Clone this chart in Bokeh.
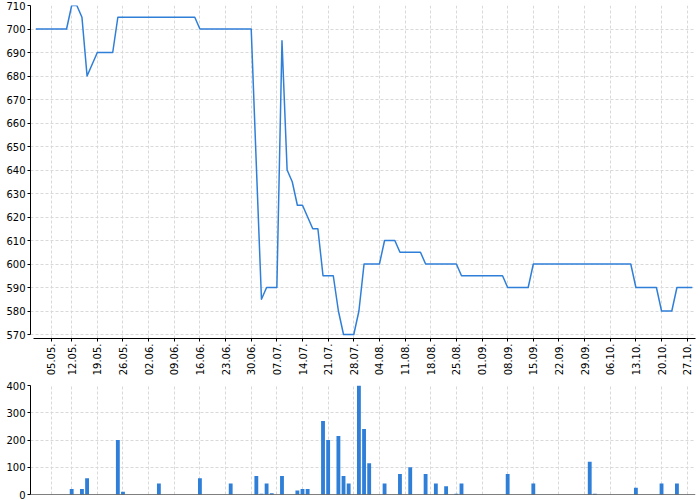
import math
import pandas as pd
from bokeh.plotting import figure
from bokeh.layouts import column
from bokeh.models import FixedTicker, Range1d, ColumnDataSource, Span
from bokeh.embed import file_html
from bokeh.resources import INLINE

# trading calendar (weekends and Czech holidays skipped)
trading_days = pd.bdate_range("2014-04-29", "2014-10-29", freq="C",
                              holidays=["2014-05-01", "2014-05-08", "2014-10-28"])
day_labels = [d.strftime("%d.%m.") for d in trading_days]

tick_labels = ["05.05.", "12.05.", "19.05.", "26.05.", "02.06.", "09.06.", "16.06.",
               "23.06.", "30.06.", "07.07.", "14.07.", "21.07.", "28.07.", "04.08.",
               "11.08.", "18.08.", "25.08.", "01.09.", "08.09.", "15.09.", "22.09.",
               "29.09.", "06.10.", "13.10.", "20.10.", "27.10."]

price = [
    700, 700, 700, 700, 700, 700, 700, 710, 710, 705,   # 0-9
    680, 685, 690, 690, 690, 690, 705, 705, 705, 705,   # 10-19
    705, 705, 705, 705, 705, 705, 705, 705, 705, 705,   # 20-29
    705, 705, 700, 700, 700, 700, 700, 700, 700, 700,   # 30-39
    700, 700, 700, 642, 585, 590, 590, 590, 695, 640,   # 40-49
    635, 625, 625, 620, 615, 615, 595, 595, 595, 580,   # 50-59
    570, 570, 570, 580, 600, 600, 600, 600, 610, 610,   # 60-69
    610, 605, 605, 605, 605, 605, 600, 600, 600, 600,   # 70-79
    600, 600, 600, 595, 595, 595, 595, 595, 595, 595,   # 80-89
    595, 595, 590, 590, 590, 590, 590, 600, 600, 600,   # 90-99
    600, 600, 600, 600, 600, 600, 600, 600, 600, 600,   # 100-109
    600, 600, 600, 600, 600, 600, 600, 590, 590, 590,   # 110-119
    590, 590, 580, 580, 580, 590, 590, 590, 590,        # 120-128
]

volume = [
    0, 0, 0, 0, 0, 0, 0, 20, 0, 20,          # 0-9
    60, 0, 0, 0, 0, 0, 200, 10, 0, 0,        # 10-19
    0, 0, 0, 0, 40, 0, 0, 0, 0, 0,           # 20-29
    0, 0, 60, 0, 0, 0, 0, 0, 40, 0,          # 30-39
    0, 0, 0, 68, 3, 40, 5, 0, 68, 0,         # 40-49
    0, 15, 20, 20, 0, 0, 270, 200, 0, 215,   # 50-59
    68, 40, 0, 400, 240, 115, 0, 0, 40, 0,   # 60-69
    0, 75, 0, 100, 0, 0, 75, 0, 40, 0,       # 70-79
    30, 0, 3, 40, 0, 0, 0, 0, 0, 0,          # 80-89
    0, 0, 75, 0, 0, 0, 0, 40, 0, 0,          # 90-99
    0, 0, 0, 0, 0, 0, 0, 0, 120, 3,          # 100-109
    0, 0, 0, 0, 0, 0, 0, 25, 0, 0,           # 110-119
    0, 0, 40, 0, 0, 40, 0, 0, 0,             # 120-128
]

price_ticks = list(range(570, 711, 10))
volume_ticks = [0, 100, 200, 300, 400]

BLUE = "#2f7fd8"
FONT = "DejaVu Sans"
GRID = "#d9d9d9"

idx = list(range(len(price)))
source = ColumnDataSource(dict(x=idx, price=price, volume=volume, day=day_labels))
tick_pos = [day_labels.index(t) for t in tick_labels]
overrides = {p: t for p, t in zip(tick_pos, tick_labels)}

x_range = Range1d(-1.03, 128.62)


def style_fig(fig):
    for ax in (fig.xaxis[0], fig.yaxis[0]):
        ax.axis_line_color = "black"
        ax.axis_line_width = 1
        ax.major_tick_line_color = "black"
        ax.major_tick_in = 0
        ax.major_tick_out = 3
        ax.minor_tick_line_color = None
        ax.major_label_text_font = FONT
        ax.major_label_text_font_size = "10px"
        ax.major_label_text_color = "black"
    for g in (fig.xgrid[0], fig.ygrid[0]):
        g.grid_line_color = GRID
        g.grid_line_dash = "3 2"
        g.grid_line_width = 1
    fig.outline_line_color = None
    fig.background_fill_color = "white"
    fig.border_fill_color = "white"


p = figure(width=700, height=380, x_range=x_range, y_range=Range1d(568.3, 710),
           output_backend="svg", toolbar_location=None,
           min_border_left=30, min_border_right=5, min_border_top=5, min_border_bottom=42)
p.line("x", "price", source=source, line_width=1.5, color=BLUE, line_join="round")
style_fig(p)
p.yaxis.ticker = FixedTicker(ticks=price_ticks)
p.yaxis.bounds = (570, 710)
p.yaxis.major_label_standoff = 2
p.xaxis.ticker = FixedTicker(ticks=tick_pos)
p.xaxis.major_label_overrides = overrides
p.xaxis.major_label_orientation = math.pi / 2
p.xaxis.major_label_standoff = 2
p.xaxis.bounds = (-0.45, 128.62)

p2 = figure(width=700, height=120, x_range=x_range, y_range=Range1d(0, 400),
            output_backend="svg", toolbar_location=None,
            min_border_left=30, min_border_right=5, min_border_top=5, min_border_bottom=6)
p2.vbar(x="x", top="volume", source=source, width=0.75, color=BLUE, line_width=0)
style_fig(p2)
p2.yaxis.ticker = FixedTicker(ticks=volume_ticks)
p2.yaxis.bounds = (0, 400)
p2.yaxis.major_label_standoff = 2
p2.xaxis.visible = False
p2.xgrid.ticker = FixedTicker(ticks=tick_pos)
p2.add_layout(Span(location=0, dimension="width", line_color="black", line_width=1))

layout = column(p, p2, spacing=0)

open("out.html", "w").write(file_html(layout, INLINE))
